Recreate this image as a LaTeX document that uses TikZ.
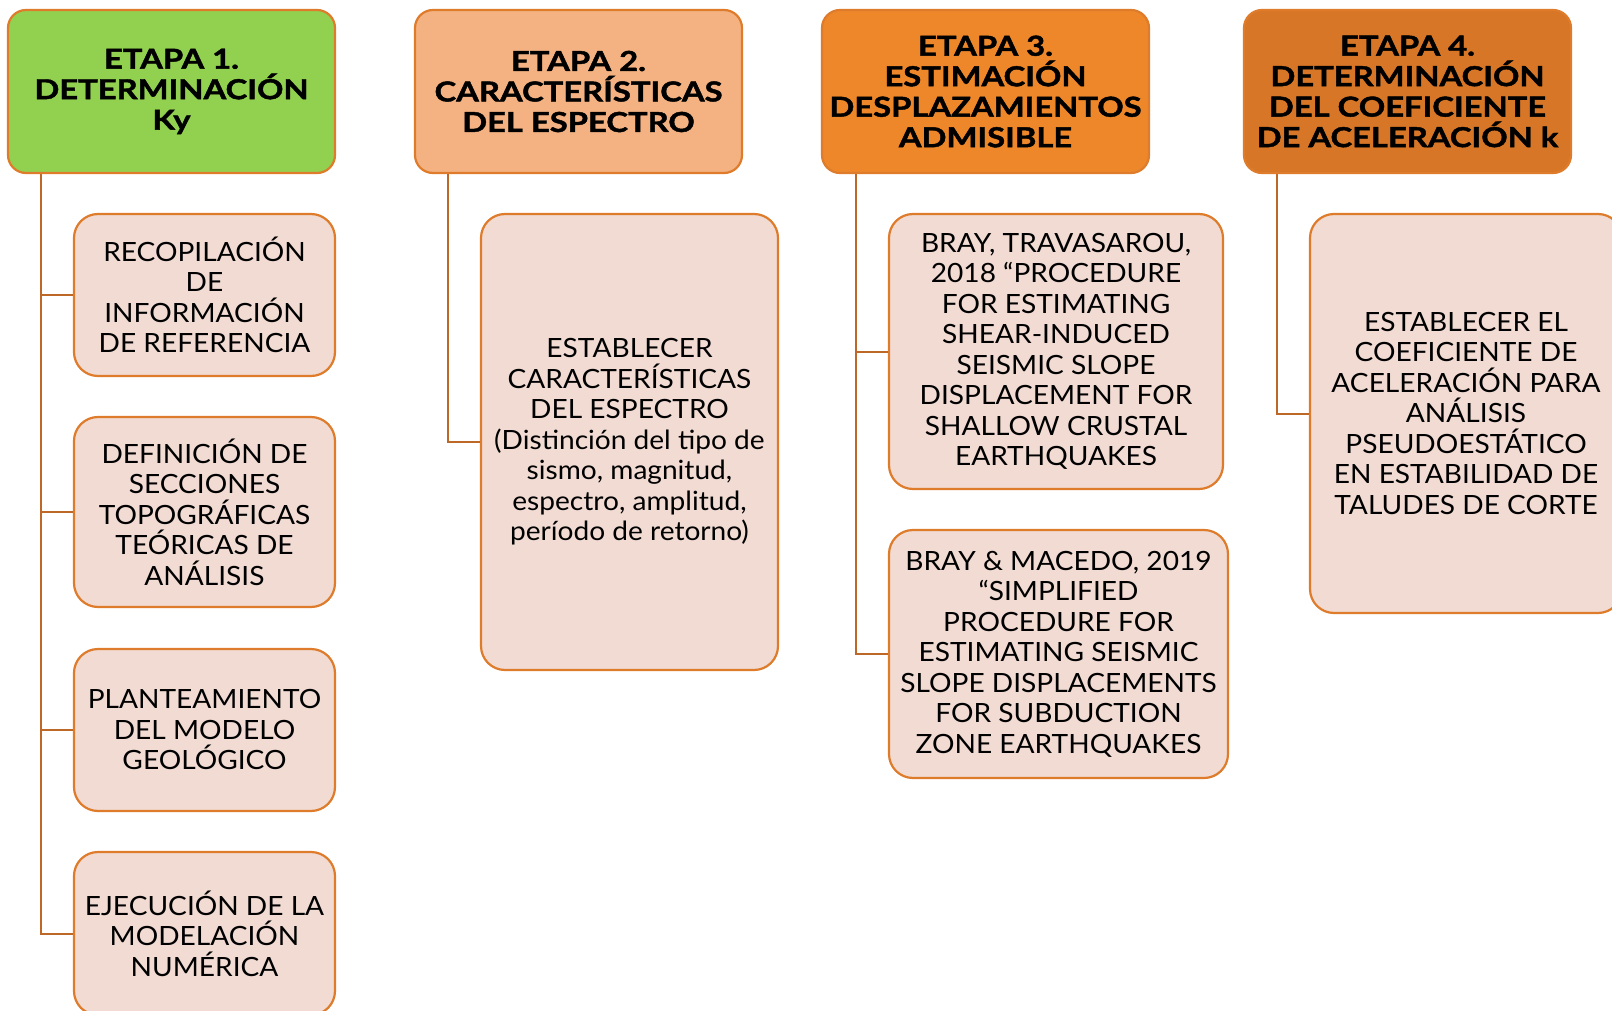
\documentclass[tikz,border=0pt]{standalone}
\usepackage{fontspec}
\setmainfont{Lato}
\newfontfamily\hdrfont[FakeStretch=1.19,BoldFeatures={FakeBold=1.6}]{Lato}
\newfontfamily\itemfont[FakeStretch=1.06]{Lato}
\usetikzlibrary{positioning}
\definecolor{hdrA}{RGB}{146,208,80}
\definecolor{hdrB}{RGB}{244,178,130}
\definecolor{hdrC}{RGB}{237,135,42}
\definecolor{hdrD}{RGB}{214,118,38}
\definecolor{boxfill}{RGB}{241,219,211}
\definecolor{edge}{RGB}{222,124,44}
\definecolor{conncol}{RGB}{190,104,40}
\tikzset{
  hdr/.style={draw=edge, line width=2.2pt, rounded corners=18pt, inner sep=0pt,
    align=center, font=\hdrfont\fontsize{27.5}{30.5}\selectfont\bfseries},
  item/.style={draw=edge, line width=2.2pt, rounded corners=24pt, fill=boxfill,
    inner sep=0pt, align=center, font=\itemfont\fontsize{26.5}{30.5}\selectfont},
  conn/.style={draw=conncol, line width=2pt}
}
\begin{document}
\begin{tikzpicture}[x=1pt,y=-1pt]
\useasboundingbox (0,0) rectangle (1612,1011);

% stage headers
\node[hdr, fill=hdrA, minimum width=327, minimum height=163] (h1) at (171.5,91.5)
  {ETAPA 1.\\DETERMINACIÓN\\Ky};
\node[hdr, fill=hdrB, minimum width=327, minimum height=163] (h2) at (578.5,91.5)
  {ETAPA 2.\\CARACTERÍSTICAS\\DEL ESPECTRO};
\node[hdr, fill=hdrC, minimum width=327, minimum height=163] (h3) at (985.5,91.5)
  {ETAPA 3.\\ESTIMACIÓN\\DESPLAZAMIENTOS\\ADMISIBLE};
\node[hdr, fill=hdrD, minimum width=327, minimum height=163] (h4) at (1407.5,91.5)
  {ETAPA 4.\\DETERMINACIÓN\\DEL COEFICIENTE\\DE ACELERACIÓN k};

% stage 1 tasks
\node[item, minimum width=261, minimum height=162] (c11) at (204.5,295)
  {RECOPILACIÓN\\DE\\INFORMACIÓN\\DE REFERENCIA};
\node[item, minimum width=261, minimum height=190] (c12) at (204.5,512)
  {DEFINICIÓN DE\\SECCIONES\\TOPOGRÁFICAS\\TEÓRICAS DE\\ANÁLISIS};
\node[item, minimum width=261, minimum height=162] (c13) at (204.5,730)
  {PLANTEAMIENTO\\DEL MODELO\\GEOLÓGICO};
\node[item, minimum width=261, minimum height=163] (c14) at (204.5,933.5)
  {EJECUCIÓN DE LA\\MODELACIÓN\\NUMÉRICA};

% stage 2 task
\node[item, minimum width=297, minimum height=456] (c21) at (629.5,442)
  {ESTABLECER\\CARACTERÍSTICAS\\DEL ESPECTRO\\(Distinción del tipo de\\sismo, magnitud,\\espectro, amplitud,\\período de retorno)};

% stage 3 tasks
\node[item, minimum width=334, minimum height=275] (c31) at (1056,351.5)
  {BRAY, TRAVASAROU,\\2018 “PROCEDURE\\FOR ESTIMATING\\SHEAR-INDUCED\\SEISMIC SLOPE\\DISPLACEMENT FOR\\SHALLOW CRUSTAL\\EARTHQUAKES};
\node[item, minimum width=339, minimum height=248] (c32) at (1058.5,654)
  {BRAY \& MACEDO, 2019\\“SIMPLIFIED\\PROCEDURE FOR\\ESTIMATING SEISMIC\\SLOPE DISPLACEMENTS\\FOR SUBDUCTION\\ZONE EARTHQUAKES};

% stage 4 task
\node[item, minimum width=312, minimum height=399] (c41) at (1466,413.5)
  {ESTABLECER EL\\COEFICIENTE DE\\ACELERACIÓN PARA\\ANÁLISIS\\PSEUDOESTÁTICO\\EN ESTABILIDAD DE\\TALUDES DE CORTE};

% spine positions
\coordinate (s1) at (41,0);
\coordinate (s2) at (448,0);
\coordinate (s3) at (856,0);
\coordinate (s4) at (1277,0);

% connectors
\draw[conn] (s1 |- h1.south) |- (c14.west);
\draw[conn] (s1 |- c11.west) -- (c11.west);
\draw[conn] (s1 |- c12.west) -- (c12.west);
\draw[conn] (s1 |- c13.west) -- (c13.west);
\draw[conn] (s2 |- h2.south) |- (c21.west);
\draw[conn] (s3 |- h3.south) |- (c32.west);
\draw[conn] (s3 |- c31.west) -- (c31.west);
\draw[conn] (s4 |- h4.south) |- (c41.west);
\end{tikzpicture}
\end{document}
